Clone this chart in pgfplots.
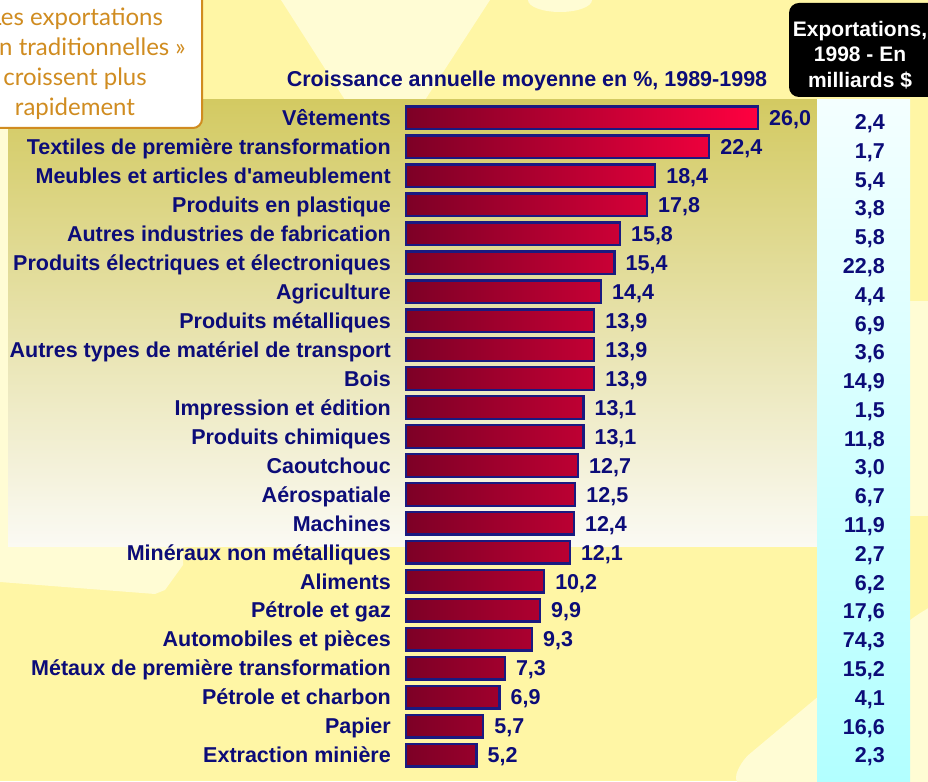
\documentclass[border=0pt]{standalone}
\usepackage{pgfplots}
\pgfplotsset{compat=1.18}
\usepackage{pgfplotstable}
\usepackage{fontspec}
\setmainfont{Liberation Sans}
\newfontfamily\notefont{Lato}

\definecolor{bgY}{HTML}{FFF6A5}
\definecolor{lightY}{HTML}{FFFCD4}
\definecolor{oliveTop}{HTML}{D3CA62}
\definecolor{oliveBot}{HTML}{FBFAF4}
\definecolor{cyanTop}{HTML}{F4FFFF}
\definecolor{cyanBot}{HTML}{B2FFFF}
\definecolor{navyT}{HTML}{0C0C78}
\definecolor{barB}{HTML}{1A1A80}
\definecolor{barL}{HTML}{7D0026}
\definecolor{barR}{HTML}{FF0040}
\definecolor{noteC}{HTML}{D08C20}

\newcommand{\lbl}{\bfseries\fontsize{21.5}{25}\selectfont}

% y: position (22 = top bar), growth: average annual growth 1989-1998 (%), export: exports 1998 (billions $)
\pgfplotstableread{
y growth export
22 26.0 2.4
21 22.4 1.7
20 18.4 5.4
19 17.8 3.8
18 15.8 5.8
17 15.4 22.8
16 14.4 4.4
15 13.9 6.9
14 13.9 3.6
13 13.9 14.9
12 13.1 1.5
11 13.1 11.8
10 12.7 3.0
9 12.5 6.7
8 12.4 11.9
7 12.1 2.7
6 10.2 6.2
5 9.9 17.6
4 9.3 74.3
3 7.3 15.2
2 6.9 4.1
1 5.7 16.6
0 5.2 2.3
}\datatable

\begin{document}
\begin{tikzpicture}
\clip (0pt,0pt) rectangle (928pt,781pt);
\begin{scope}[x=1pt,y=1pt]
% background
\fill[bgY] (0,0) rectangle (928,781);
\fill[lightY] (281,781) -- (490,781) -- (425,681) -- (345,681) -- cycle;
\fill[lightY, overlay] (560,781) ellipse (32 and 12);
\fill[lightY] (0,234) -- (183,234) -- (183,216) -- (165,191) -- (155,187) -- (0,199) -- cycle;
\fill[lightY] (0,234) rectangle (8,681);
\fill[lightY] (910,265) rectangle (928,480);
\fill[lightY, rounded corners=12pt, overlay] (733,-5) -- (740,19) -- (912,163) -- (940,180) -- (940,-5) -- cycle;
% panels
\shade[top color=oliveTop, bottom color=oliveBot] (8,234) rectangle (818,681);
\shade[top color=cyanTop, bottom color=cyanBot] (817,0) rectangle (910,681);
% header box
\fill[black, rounded corners=10pt, overlay] (789,684) rectangle (950,778);
\node[white, align=center, overlay, font=\bfseries\fontsize{21}{25.5}\selectfont] at (860,726) {Exportations,\\1998 - En\\milliards \$};
% note box
\draw[noteC, line width=2pt, fill=white, rounded corners=9pt, overlay] (-30,653) rectangle (202,810);
\begin{scope}[every node/.style={noteC, font=\notefont\fontsize{24}{29}\selectfont, anchor=base, inner sep=0pt, overlay}]
\node at (68,755) {« Les exportations};
\node at (79,725) {non traditionnelles »};
\node at (75,695) {croissent plus};
\node at (75,665) {rapidement};
\end{scope}
% title
\node[navyT, font=\lbl] at (527,700) {Croissance annuelle moyenne en \%, 1989-1998};
\end{scope}

\begin{axis}[
  at={(406pt,11.4pt)}, anchor=south west,
  scale only axis, width=352pt, height=666.2pt,
  xmin=0, xmax=26, ymin=-0.5, ymax=22.5,
  axis line style={draw=none}, tick style={draw=none},
  xtick=\empty, ytick={0,...,22},
  yticklabels={Extraction minière, Papier, Pétrole et charbon, Métaux de première transformation, Automobiles et pièces, Pétrole et gaz, Aliments, Minéraux non métalliques, Machines, Aérospatiale, Caoutchouc, Produits chimiques, Impression et édition, Bois, Autres types de matériel de transport, Produits métalliques, Agriculture, Produits électriques et électroniques, Autres industries de fabrication, Produits en plastique, Meubles et articles d\textquotesingle ameublement, Textiles de première transformation, Vêtements},
  yticklabel style={font=\lbl, text=navyT, inner sep=0pt, xshift=-15pt, text height=15.4pt, text depth=0pt},
  clip=false,
]
\addplot[xbar, bar width=22.6pt, draw=barB, line width=2.4pt, left color=barL, right color=barR]
  table[x=growth, y=y]{\datatable};
\addplot[draw=none, mark=none, point meta=x,
  nodes near coords={\pgfmathprintnumber[fixed,fixed zerofill,precision=1,use comma,assume math mode=true]{\pgfplotspointmeta}},
  nodes near coords style={font=\lbl, text=navyT, anchor=west, inner sep=0pt, xshift=11pt, text height=15.4pt, text depth=0pt}]
  table[x=growth, y=y]{\datatable};
\addplot[draw=none, mark=none, point meta=explicit,
  nodes near coords={\pgfmathprintnumber[fixed,fixed zerofill,precision=1,use comma,assume math mode=true]{\pgfplotspointmeta}},
  nodes near coords style={font=\lbl, text=navyT, anchor=east, inner sep=0pt, text height=15.4pt, text depth=0pt}]
  table[x expr=35.38, y expr=\thisrow{y}*0.9937, meta=export]{\datatable};
\end{axis}
\end{tikzpicture}
\end{document}
